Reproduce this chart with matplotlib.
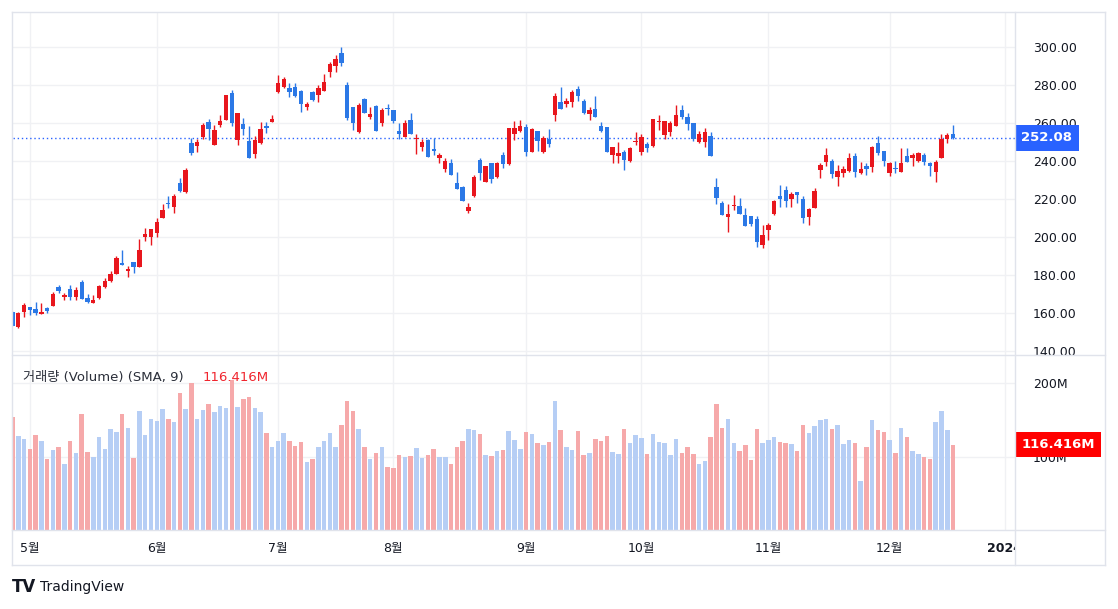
import matplotlib
matplotlib.use("Agg")
import matplotlib.pyplot as plt
import matplotlib.transforms as mtransforms
from matplotlib.lines import Line2D
from matplotlib.ticker import FormatStrFormatter
import numpy as np

plt.rcParams['font.family'] = ['DejaVu Sans', 'Noto Sans CJK KR']

# daily candles, one per session (late April -> mid December)
opens = [160.9, 152.6, 160.9, 163.2, 162.3, 159.7, 163.0, 164.0, 174.0, 168.8,
         172.6, 168.4, 176.6, 168.2, 165.6, 168.2, 174.0, 177.2, 180.8, 186.6,
         182.4, 186.9, 184.5, 200.3, 199.9, 202.4, 210.2, 218.1, 216.0, 228.3,
         223.9, 249.2, 247.8, 252.8, 260.3, 248.4, 258.9, 261.5, 275.8, 251.0,
         259.4, 250.7, 243.5, 249.6, 258.3, 260.6, 276.4, 279.0, 278.1, 278.6,
         276.7, 268.5, 276.4, 274.6, 276.9, 286.5, 289.9, 296.5, 279.9, 268.1,
         255.4, 272.3, 263.3, 268.9, 260.1, 268.0, 266.8, 255.9, 252.4, 261.5,
         251.7, 247.5, 251.0, 246.1, 241.7, 235.8, 239.1, 228.6, 226.5, 213.9,
         221.6, 240.5, 229.1, 238.8, 231.4, 243.1, 238.4, 254.1, 255.9, 257.7,
         244.9, 255.5, 244.9, 251.3, 264.1, 271.1, 269.9, 271.1, 277.6, 271.7,
         264.5, 267.1, 258.5, 258.0, 243.1, 242.6, 244.5, 240.0, 250.1, 244.9,
         248.9, 247.9, 260.6, 253.6, 255.4, 258.1, 266.8, 262.9, 259.8, 249.8,
         250.2, 253.2, 226.5, 217.8, 210.3, 216.5, 216.4, 211.7, 211.3, 209.4,
         195.9, 203.8, 212.2, 221.7, 224.5, 220.1, 223.9, 220.1, 210.3, 215.5,
         235.0, 239.2, 240.0, 231.8, 233.9, 234.8, 242.6, 233.9, 237.4, 236.7,
         249.3, 245.3, 233.5, 236.2, 234.1, 242.8, 241.8, 240.0, 243.2, 238.8,
         234.4, 241.4, 251.4, 254.2]
highs = [161.2, 160.7, 165.6, 163.5, 166.0, 165.6, 163.5, 171.2, 174.9, 170.5,
         174.9, 174.0, 177.5, 170.0, 169.6, 174.9, 178.4, 182.4, 190.1, 193.3,
         184.8, 186.9, 199.0, 204.6, 204.3, 209.9, 217.4, 221.6, 222.5, 230.9,
         236.1, 252.2, 251.3, 260.1, 261.9, 258.9, 264.1, 274.8, 277.3, 265.4,
         262.4, 258.5, 253.0, 260.6, 260.6, 264.1, 285.1, 284.3, 280.8, 281.1,
         277.3, 271.1, 276.6, 279.9, 285.5, 292.1, 295.6, 300.0, 281.6, 268.1,
         270.6, 272.9, 268.1, 269.4, 267.6, 269.7, 266.8, 259.8, 261.5, 265.4,
         254.0, 251.5, 251.5, 252.2, 244.3, 241.4, 241.0, 234.4, 226.8, 218.1,
         232.6, 241.4, 237.4, 239.1, 239.6, 244.9, 257.5, 261.0, 261.5, 259.4,
         257.1, 255.7, 253.1, 256.8, 275.5, 279.0, 272.9, 277.3, 279.5, 272.4,
         268.5, 274.1, 260.6, 258.0, 247.2, 250.1, 245.8, 247.5, 255.4, 254.3,
         250.1, 262.0, 264.1, 261.0, 261.0, 269.4, 269.4, 265.4, 259.8, 255.8,
         257.2, 255.4, 231.3, 219.0, 217.4, 222.1, 220.4, 215.2, 211.3, 211.2,
         206.4, 207.6, 219.6, 227.1, 226.9, 223.9, 223.9, 221.7, 215.2, 225.7,
         238.8, 247.0, 240.9, 237.9, 237.1, 244.4, 244.4, 239.2, 238.8, 247.9,
         253.2, 245.3, 239.7, 240.0, 247.0, 247.0, 244.4, 244.9, 244.0, 239.3,
         240.5, 254.0, 254.9, 258.9]
lows = [153.1, 152.3, 157.9, 159.1, 159.1, 159.5, 160.0, 164.0, 170.5, 167.0,
        167.0, 167.0, 167.7, 165.3, 165.3, 167.7, 173.1, 176.6, 180.5, 185.5,
        178.9, 181.0, 184.5, 198.2, 195.7, 200.3, 210.2, 215.1, 212.9, 223.9,
        223.4, 243.1, 244.9, 251.4, 251.0, 248.4, 257.6, 261.5, 258.5, 248.4,
        253.6, 241.4, 241.4, 249.0, 254.5, 260.6, 275.5, 278.1, 273.4, 273.8,
        265.9, 266.8, 271.5, 271.1, 276.9, 284.3, 286.5, 290.0, 261.5, 256.3,
        254.9, 265.4, 261.9, 255.9, 258.4, 264.1, 260.1, 251.4, 252.4, 254.0,
        243.5, 245.4, 242.3, 243.1, 238.8, 234.4, 232.6, 225.3, 219.2, 212.9,
        221.2, 230.0, 229.1, 228.6, 230.9, 236.1, 237.9, 251.0, 255.4, 242.6,
        244.9, 245.4, 244.0, 247.2, 261.2, 267.3, 268.5, 268.5, 271.5, 264.6,
        261.5, 262.9, 255.4, 244.9, 238.8, 239.1, 235.3, 239.6, 248.4, 243.1,
        244.9, 247.5, 256.5, 251.3, 253.0, 258.1, 261.9, 256.3, 250.7, 249.3,
        247.5, 242.8, 217.3, 211.7, 202.9, 214.1, 212.2, 205.6, 205.6, 195.0,
        194.5, 198.6, 211.7, 216.0, 215.7, 216.0, 218.1, 207.3, 206.1, 215.2,
        231.3, 237.1, 231.3, 227.0, 231.8, 234.1, 231.8, 233.2, 232.7, 234.1,
        243.2, 237.6, 232.3, 233.5, 234.1, 239.3, 237.6, 239.3, 237.9, 232.2,
        228.7, 241.4, 249.3, 251.4]
closes = [153.5, 160.4, 164.4, 161.8, 160.0, 160.9, 161.2, 170.2, 171.9, 169.8,
          168.8, 172.3, 167.7, 166.1, 167.0, 174.4, 177.0, 180.7, 189.2, 185.5,
          183.4, 184.5, 193.2, 201.8, 204.3, 207.8, 214.3, 217.4, 221.6, 224.4,
          235.2, 244.3, 250.1, 258.9, 256.6, 256.3, 261.2, 274.6, 259.8, 265.0,
          256.6, 241.4, 251.0, 256.6, 257.5, 262.0, 280.8, 282.9, 276.4, 274.3,
          269.7, 269.9, 272.0, 278.1, 281.6, 290.9, 293.3, 291.3, 262.4, 260.1,
          269.4, 265.4, 264.6, 255.9, 266.8, 267.3, 261.0, 254.2, 260.1, 254.0,
          252.3, 250.1, 242.3, 245.4, 243.1, 240.2, 232.6, 225.3, 219.2, 216.0,
          231.8, 233.5, 237.4, 230.4, 239.1, 238.4, 257.5, 257.1, 258.4, 244.9,
          256.6, 250.5, 252.2, 248.7, 274.1, 267.3, 271.7, 276.0, 274.3, 265.4,
          266.8, 262.9, 255.9, 244.9, 247.2, 244.3, 240.5, 247.0, 250.6, 252.4,
          246.6, 261.8, 261.1, 261.0, 260.0, 264.2, 263.3, 259.3, 251.4, 254.0,
          255.1, 242.8, 220.4, 211.7, 212.2, 216.8, 212.2, 205.6, 207.0, 197.2,
          201.2, 206.1, 219.0, 220.1, 219.2, 222.5, 222.2, 209.9, 214.8, 224.3,
          237.9, 243.2, 233.4, 234.8, 235.8, 241.4, 234.4, 235.8, 235.8, 247.2,
          244.4, 240.2, 239.1, 235.7, 238.8, 239.7, 243.2, 244.0, 239.3, 237.1,
          239.3, 251.4, 253.7, 252.08]
# volume in millions
volume = [154, 128, 124, 110, 129, 121, 97, 109, 113, 90,
          121, 105, 158, 106, 99, 127, 110, 137, 133, 158,
          139, 98, 162, 129, 151, 148, 165, 151, 147, 187,
          165, 200, 151, 163, 172, 161, 169, 166, 204, 168,
          178, 181, 166, 161, 132, 113, 121, 132, 121, 114,
          120, 93, 97, 113, 121, 132, 113, 143, 176, 162,
          138, 113, 97, 105, 113, 86, 84, 102, 100, 101,
          112, 98, 102, 110, 99, 99, 90, 113, 121, 138,
          136, 131, 102, 101, 108, 109, 135, 123, 110, 134,
          131, 118, 116, 120, 176, 136, 113, 109, 135, 102,
          105, 124, 121, 128, 106, 104, 138, 119, 129, 126,
          103, 131, 120, 119, 102, 124, 105, 113, 104, 90,
          94, 127, 172, 139, 151, 119, 108, 116, 96, 138,
          119, 123, 127, 120, 119, 117, 108, 143, 132, 142,
          150, 151, 138, 143, 117, 123, 119, 67, 113, 150,
          136, 134, 123, 105, 139, 127, 108, 104, 100, 97,
          147, 162, 136, 116.416]

month_idx = [3, 25, 46, 66, 89, 109, 131, 152, 172]
month_labels = ['5월', '6월', '7월', '8월', '9월', '10월', '11월', '12월', '2024']
price_ticks = [140, 160, 180, 200, 220, 240, 260, 280, 300]
vol_ticks = [100, 200]

RED = '#E8161D'
BLUE = '#2B78E6'
VRED = '#F6A9AA'
VBLUE = '#B6CEF5'
GRID = '#F0F1F4'
EDGE = '#E0E3EB'
TXT = '#131722'

W, H = 1118, 609
fig = plt.figure(figsize=(W / 100, H / 100), dpi=100)


def fx(px):
    return px / W


def fy(py):
    return 1 - py / H


ax_p = fig.add_axes([fx(13), fy(355), (1015 - 13) / W, (355 - 12) / H])
ax_v = fig.add_axes([fx(13), fy(530), (1015 - 13) / W, (530 - 355) / H], sharex=ax_p)

o = np.array(opens)
h = np.array(highs)
l = np.array(lows)
c = np.array(closes)
v = np.array(volume)
x = np.arange(len(o))
up = c >= o
cols = np.where(up, RED, BLUE)

# candles: wick + body
ax_p.vlines(x, l, h, colors=cols, lw=1, zorder=3)
ax_p.bar(x, np.maximum(np.abs(c - o), 0.6), bottom=np.minimum(o, c),
         width=0.76, color=cols, linewidth=0, zorder=3)
ax_p.axhline(c[-1], color='#2962FF', lw=1, ls=(0, (1, 2)), zorder=2)

# volume bars (down day -> red, up day -> blue)
ax_v.bar(x, v, width=0.78, color=np.where(up, VBLUE, VRED), linewidth=0, zorder=3)

ax_p.set_xlim(0.087, 173.74)
ax_p.set_ylim(138.1, 318.2)
ax_v.set_ylim(0, 238.4)

for ax in (ax_p, ax_v):
    for s in ax.spines.values():
        s.set_visible(False)
    ax.set_xticks(month_idx)
    ax.grid(color=GRID, lw=1, zorder=0)
    ax.set_axisbelow(True)
    ax.yaxis.tick_right()
    ax.tick_params(axis='y', length=0, pad=13, labelsize=9, labelcolor=TXT)
    ax.tick_params(axis='x', length=0, labelbottom=False)

ax_p.set_yticks(price_ticks)
ax_p.yaxis.set_major_formatter(FormatStrFormatter('%.2f'))
ax_v.set_yticks(vol_ticks)
ax_v.set_yticklabels([f'{t}M' for t in vol_ticks])

# month labels under the time axis
clip = mtransforms.TransformedBbox(mtransforms.Bbox.from_extents(0, 0, fx(1015), 1), fig.transFigure)
tr = mtransforms.blended_transform_factory(ax_v.transData, ax_v.transAxes)
for xi, lab in zip(month_idx, month_labels):
    t = ax_v.text(xi, -0.103, lab, transform=tr, ha='center', va='center',
                  fontsize=9, color=TXT, fontweight='bold' if lab == '2024' else 'normal')
    t.set_clip_box(clip)
    t.set_clip_on(True)

# last value labels on the right scale
trp = mtransforms.blended_transform_factory(ax_p.transAxes, ax_p.transData)
ax_p.text(1.0, c[-1], f'{c[-1]:.2f}',
          transform=mtransforms.offset_copy(trp, fig=fig, x=4.5, units='points'),
          ha='left', va='center', fontsize=9.5, fontweight='bold', color='white',
          bbox=dict(boxstyle='square,pad=0.5', fc='#2962FF', ec='none'), zorder=5)
trv = mtransforms.blended_transform_factory(ax_v.transAxes, ax_v.transData)
ax_v.text(1.0, v[-1], f'{v[-1]:.3f}M',
          transform=mtransforms.offset_copy(trv, fig=fig, x=4.5, units='points'),
          ha='left', va='center', fontsize=9.5, fontweight='bold', color='white',
          bbox=dict(boxstyle='square,pad=0.45', fc='#FF0000', ec='none'), zorder=5)

# volume pane legend
ax_v.text(0.01, 0.874, '거래량 (Volume) (SMA, 9)', transform=ax_v.transAxes,
          ha='left', va='center', fontsize=9.5, color='#2A2E39')
ax_v.text(0.1896, 0.874, f'{v[-1]:.3f}M', transform=ax_v.transAxes,
          ha='left', va='center', fontsize=9.5, color='#F0252E')

# chart frame
for (x0, y0, x1, y1) in [(12, 12, 1105, 12), (12, 565, 1105, 565), (12, 12, 12, 565),
                         (1105, 12, 1105, 565), (1015, 12, 1015, 565),
                         (12, 355, 1105, 355), (12, 530, 1105, 530)]:
    fig.add_artist(Line2D([fx(x0), fx(x1)], [fy(y0), fy(y1)], color=EDGE, lw=1))

fig.text(fx(12), fy(587), 'TV', fontsize=12, fontweight='heavy', color=TXT, va='center')
fig.text(fx(40), fy(587), 'TradingView', fontsize=10, color=TXT, va='center')

fig.savefig('out.png', dpi=100)
